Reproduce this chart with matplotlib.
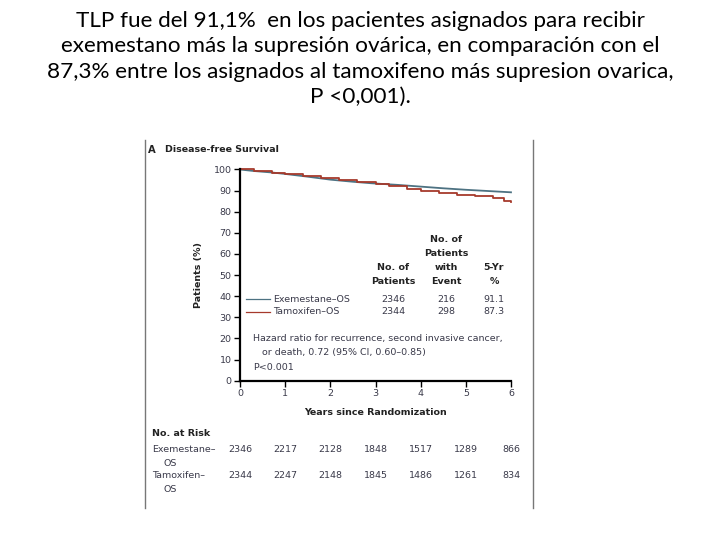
import numpy as np
import matplotlib
matplotlib.use("Agg")
import matplotlib.pyplot as plt
from matplotlib.lines import Line2D

# data
years_exe = [0, 0.3, 0.7, 1.0, 1.5, 2.0, 2.5, 2.9, 3.5, 4.0, 4.5, 5.0, 5.5, 6.0]
surv_exe = [100, 99.3, 98.6, 97.9, 96.6, 95.2, 94.2, 93.5, 92.7, 91.9, 91.1, 90.4, 89.8, 89.2]
years_tam = [0, 0.3, 0.7, 1.0, 1.4, 1.8, 2.2, 2.6, 3.0, 3.3, 3.7, 4.0, 4.4, 4.8, 5.2, 5.6, 5.85, 6.0]
surv_tam = [100, 99.3, 98.5, 97.8, 96.8, 95.8, 94.8, 93.9, 93.0, 92.0, 90.9, 89.9, 88.9, 88.1, 87.4, 86.6, 85.3, 84.5]

groups = ["Exemestane–OS", "Tamoxifen–OS"]
n_patients = [2346, 2344]
n_events = [216, 298]
five_yr = ["91.1", "87.3"]

risk_years = [0, 1, 2, 3, 4, 5, 6]
risk_exe = [2346, 2217, 2128, 1848, 1517, 1289, 866]
risk_tam = [2344, 2247, 2148, 1845, 1486, 1261, 834]

c_exe = "#4d7282"
c_tam = "#a63a2c"
c_txt = "#3a3a4a"

W, H = 720, 540
fig = plt.figure(figsize=(7.2, 5.4), dpi=100)

def P(x, y):
    return x / W, 1 - y / H

title = ("TLP fue del 91,1%  en los pacientes asignados para recibir\n"
         "exemestano más la supresión ovárica, en comparación con el\n"
         "87,3% entre los asignados al tamoxifeno más supresion ovarica,\n"
         "P <0,001).")
fig.text(*P(360, 59), title, ha="center", va="center", fontsize=16.2,
         family="Lato", linespacing=1.34, color="#000000")

# frame lines of the pasted figure
fig.add_artist(Line2D([145 / W] * 2, [1 - 140 / H, 1 - 508 / H], color="#777777", lw=1))
fig.add_artist(Line2D([533 / W] * 2, [1 - 140 / H, 1 - 508 / H], color="#777777", lw=1))

ax = fig.add_axes([240 / W, 1 - 380.7 / H, 271 / W, 211.2 / H])
ax.plot(years_exe, surv_exe, color=c_exe, lw=1.3, clip_on=False)
ax.step(years_tam, surv_tam, where="post", color=c_tam, lw=1.3, clip_on=False)
ax.set_xlim(0, 6)
ax.set_ylim(0, 100)
ax.set_xticks(range(7))
ax.set_yticks(range(0, 101, 10))
for s in ["top", "right"]:
    ax.spines[s].set_visible(False)
for s in ["left", "bottom"]:
    ax.spines[s].set_linewidth(1.6)
ax.tick_params(length=4, width=1, labelsize=6.8, labelcolor=c_txt, pad=2)
ax.set_xlabel("Years since Randomization", fontsize=6.8, fontweight="bold",
              color="#222222", labelpad=7)
ax.set_ylabel("Patients (%)", fontsize=6.8, fontweight="bold", color="#222222",
              labelpad=8)

fs = 6.8
fig.text(*P(148, 150), "A", fontsize=7.2, fontweight="bold", va="center", color="#222222")
fig.text(*P(165, 150), "Disease-free Survival", fontsize=fs, fontweight="bold",
         va="center", color="#222222")

# legend and table
rows_y = [299, 312]
for i, c in enumerate([c_exe, c_tam]):
    fig.add_artist(Line2D([246 / W, 270 / W], [1 - rows_y[i] / H] * 2, color=c, lw=0.9))
    fig.text(*P(273, rows_y[i]), groups[i], fontsize=fs, va="center", color=c_txt)
    fig.text(*P(393, rows_y[i]), str(n_patients[i]), fontsize=fs, va="center", ha="center", color=c_txt)
    fig.text(*P(446, rows_y[i]), str(n_events[i]), fontsize=fs, va="center", ha="center", color=c_txt)
    fig.text(*P(494, rows_y[i]), five_yr[i], fontsize=fs, va="center", ha="center", color=c_txt)

hdr = dict(fontsize=fs, fontweight="bold", ha="center", va="center", color="#222222")
fig.text(*P(393, 268), "No. of", **hdr)
fig.text(*P(393, 282), "Patients", **hdr)
for y, t in zip([240, 254, 268, 282], ["No. of", "Patients", "with", "Event"]):
    fig.text(*P(446, y), t, **hdr)
fig.text(*P(494, 268), "5-Yr", **hdr)
fig.text(*P(494, 282), "%", **hdr)

fig.text(*P(253, 338), "Hazard ratio for recurrence, second invasive cancer,",
         fontsize=fs, va="center", color=c_txt)
fig.text(*P(262, 352), "or death, 0.72 (95% CI, 0.60–0.85)", fontsize=fs,
         va="center", color=c_txt)
fig.text(*P(253, 367), "P<0.001", fontsize=fs, va="center", color=c_txt)

# numbers at risk
fig.text(*P(152, 434), "No. at Risk", fontsize=fs, fontweight="bold", va="center", color="#222222")
fig.text(*P(152, 449), "Exemestane–", fontsize=fs, va="center", color=c_txt)
fig.text(*P(163, 463), "OS", fontsize=fs, va="center", color=c_txt)
fig.text(*P(152, 476), "Tamoxifen–", fontsize=fs, va="center", color=c_txt)
fig.text(*P(163, 490), "OS", fontsize=fs, va="center", color=c_txt)
trans = ax.get_xaxis_transform()
for yr, a, b in zip(risk_years, risk_exe, risk_tam):
    ax.text(yr, -(449 - 380.7) / 211.2, str(a), transform=trans, ha="center",
            va="center", fontsize=fs, color=c_txt, clip_on=False)
    ax.text(yr, -(476 - 380.7) / 211.2, str(b), transform=trans, ha="center",
            va="center", fontsize=fs, color=c_txt, clip_on=False)

fig.savefig("out.png", dpi=100)
